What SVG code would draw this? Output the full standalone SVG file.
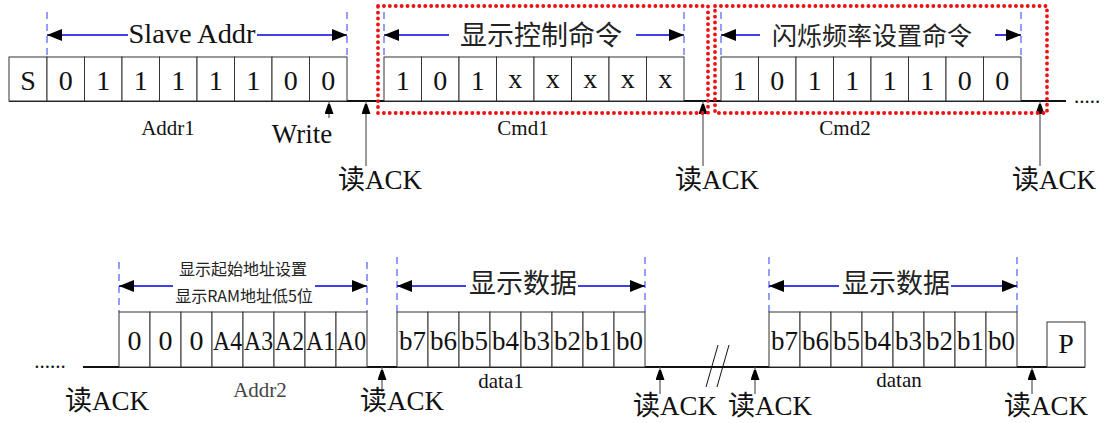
<svg xmlns="http://www.w3.org/2000/svg" width="1106" height="423" viewBox="0 0 1106 423">
<style>
.bg{fill:#fff}
.cell{fill:#fff;stroke:#333;stroke-width:1}
.bit{font-family:"Liberation Serif",serif;font-size:28px;fill:#111;text-anchor:middle}
.bit2{font-family:"Liberation Serif",serif;font-size:28px;fill:#111;text-anchor:middle}
.lbl{font-family:"Liberation Serif",serif;font-size:21px;fill:#111;text-anchor:middle}
.big{font-family:"Liberation Serif","Noto Sans CJK SC",serif;font-size:27px;fill:#111}
.cn{font-family:"Noto Sans CJK SC",sans-serif;fill:#222;text-anchor:middle}
.dash{stroke:#2a3cf0;stroke-width:1;stroke-dasharray:7 5;fill:none}
.dim{stroke:#0000e0;stroke-width:1.6;fill:none;marker-end:url(#ah)}
.ack{stroke:#555;stroke-width:1.2;fill:none;marker-end:url(#ak)}
.base{stroke:#111;stroke-width:2;fill:none}
.red{fill:none;stroke:#ee1111;stroke-width:3.8;stroke-dasharray:0.1 5.8;stroke-linecap:round}
</style>
<defs>
<marker id="ah" markerUnits="userSpaceOnUse" markerWidth="16" markerHeight="12" refX="15" refY="6" orient="auto"><path d="M0,0 L15,6 L0,12 z" fill="#000"/></marker>
<marker id="ak" markerUnits="userSpaceOnUse" markerWidth="10" markerHeight="14" refX="13" refY="4.5" orient="auto"><path d="M0,0 L13,4.5 L0,9 z" fill="#000"/></marker>
</defs>
<rect class="bg" x="0" y="0" width="1106" height="423"/>

<g id="connectors">
<line class="base" x1="9" y1="101" x2="1066" y2="101"/>
<line class="base" x1="83" y1="367" x2="1085" y2="367"/>
<line x1="718" y1="345" x2="706" y2="387" stroke="#111" stroke-width="1"/>
<line x1="729" y1="345" x2="717" y2="387" stroke="#111" stroke-width="1"/>
<line class="ack" x1="329" y1="118" x2="329" y2="101"/>
<line class="ack" x1="366" y1="166" x2="366" y2="101"/>
<line class="ack" x1="703" y1="166" x2="703" y2="101"/>
<line class="ack" x1="1040" y1="166" x2="1040" y2="101"/>
<line class="ack" x1="382" y1="392" x2="382" y2="367"/>
<line class="ack" x1="660" y1="394" x2="660" y2="367"/>
<line class="ack" x1="755" y1="394" x2="755" y2="367"/>
<line class="ack" x1="1032" y1="394" x2="1032" y2="367"/>
</g>

<g id="start">
<rect class="cell" x="9" y="57" width="38" height="44"/>
<text class="bit" x="28" y="90">S</text>
</g>

<g id="addr1">
<line class="dash" x1="47" y1="12" x2="47" y2="57"/>
<line class="dash" x1="347" y1="12" x2="347" y2="57"/>
<line class="dim" x1="128" y1="35" x2="47" y2="35"/>
<line class="dim" x1="257" y1="35" x2="347" y2="35"/>
<text class="big" x="192" y="43" text-anchor="middle" textLength="127" lengthAdjust="spacingAndGlyphs">Slave Addr</text>
<rect class="cell" x="47" y="57" width="37.5" height="44"/>
<rect class="cell" x="84.5" y="57" width="37.5" height="44"/>
<rect class="cell" x="122" y="57" width="37.5" height="44"/>
<rect class="cell" x="159.5" y="57" width="37.5" height="44"/>
<rect class="cell" x="197" y="57" width="37.5" height="44"/>
<rect class="cell" x="234.5" y="57" width="37.5" height="44"/>
<rect class="cell" x="272" y="57" width="37.5" height="44"/>
<rect class="cell" x="309.5" y="57" width="37.5" height="44"/>
<text class="bit" x="65.75" y="90">0</text>
<text class="bit" x="103.25" y="90">1</text>
<text class="bit" x="140.75" y="90">1</text>
<text class="bit" x="178.25" y="90">1</text>
<text class="bit" x="215.75" y="90">1</text>
<text class="bit" x="253.25" y="90">1</text>
<text class="bit" x="290.75" y="90">0</text>
<text class="bit" x="328.25" y="90">0</text>
<text class="lbl" x="168" y="135">Addr1</text>
<text class="big" x="302" y="143" text-anchor="middle" font-size="26">Write</text>
<text class="big" x="338" y="189">读ACK</text>
</g>

<g id="cmd1">
<rect class="red" x="378" y="6" width="330" height="107"/>
<line class="dash" x1="384" y1="12" x2="384" y2="57"/>
<line class="dash" x1="684" y1="12" x2="684" y2="57"/>
<line class="dim" x1="449" y1="35" x2="384" y2="35"/>
<line class="dim" x1="636" y1="35" x2="684" y2="35"/>
<text class="cn" x="541" y="45" font-size="27">显示控制命令</text>
<rect class="cell" x="384" y="57" width="37.5" height="44"/>
<rect class="cell" x="421.5" y="57" width="37.5" height="44"/>
<rect class="cell" x="459" y="57" width="37.5" height="44"/>
<rect class="cell" x="496.5" y="57" width="37.5" height="44"/>
<rect class="cell" x="534" y="57" width="37.5" height="44"/>
<rect class="cell" x="571.5" y="57" width="37.5" height="44"/>
<rect class="cell" x="609" y="57" width="37.5" height="44"/>
<rect class="cell" x="646.5" y="57" width="37.5" height="44"/>
<text class="bit" x="402.75" y="90">1</text>
<text class="bit" x="440.25" y="90">0</text>
<text class="bit" x="477.75" y="90">1</text>
<text class="bit" x="515.25" y="88">x</text>
<text class="bit" x="552.75" y="88">x</text>
<text class="bit" x="590.25" y="88">x</text>
<text class="bit" x="627.75" y="88">x</text>
<text class="bit" x="665.25" y="88">x</text>
<text class="lbl" x="523" y="135">Cmd1</text>
<text class="big" x="675" y="189">读ACK</text>
</g>

<g id="cmd2">
<rect class="red" x="715" y="6" width="332" height="107"/>
<line class="dash" x1="721" y1="12" x2="721" y2="57"/>
<line class="dash" x1="1021" y1="12" x2="1021" y2="57"/>
<line class="dim" x1="760" y1="35" x2="721" y2="35"/>
<line class="dim" x1="995" y1="35" x2="1021" y2="35"/>
<text class="cn" x="872" y="45" font-size="25">闪烁频率设置命令</text>
<rect class="cell" x="721" y="57" width="37.5" height="44"/>
<rect class="cell" x="758.5" y="57" width="37.5" height="44"/>
<rect class="cell" x="796" y="57" width="37.5" height="44"/>
<rect class="cell" x="833.5" y="57" width="37.5" height="44"/>
<rect class="cell" x="871" y="57" width="37.5" height="44"/>
<rect class="cell" x="908.5" y="57" width="37.5" height="44"/>
<rect class="cell" x="946" y="57" width="37.5" height="44"/>
<rect class="cell" x="983.5" y="57" width="37.5" height="44"/>
<text class="bit" x="739.75" y="90">1</text>
<text class="bit" x="777.25" y="90">0</text>
<text class="bit" x="814.75" y="90">1</text>
<text class="bit" x="852.25" y="90">1</text>
<text class="bit" x="889.75" y="90">1</text>
<text class="bit" x="927.25" y="90">1</text>
<text class="bit" x="964.75" y="90">0</text>
<text class="bit" x="1002.25" y="90">0</text>
<text class="lbl" x="845" y="135">Cmd2</text>
<text class="big" x="1012" y="189">读ACK</text>
<text class="lbl" x="1087" y="103" font-size="20">.....</text>
</g>

<g id="addr2">
<text class="lbl" x="50" y="368" font-size="20">......</text>
<line class="dash" x1="119" y1="262" x2="119" y2="312"/>
<line class="dash" x1="367" y1="262" x2="367" y2="312"/>
<line class="dim" x1="173" y1="286" x2="119" y2="286"/>
<line class="dim" x1="315" y1="286" x2="367" y2="286"/>
<text class="cn" x="243" y="275" font-size="16">显示起始地址设置</text>
<text class="cn" x="244" y="302" font-size="16">显示RAM地址低5位</text>
<rect class="cell" x="119" y="312" width="31" height="55"/>
<rect class="cell" x="150" y="312" width="31" height="55"/>
<rect class="cell" x="181" y="312" width="31" height="55"/>
<rect class="cell" x="212" y="312" width="31" height="55"/>
<rect class="cell" x="243" y="312" width="31" height="55"/>
<rect class="cell" x="274" y="312" width="31" height="55"/>
<rect class="cell" x="305" y="312" width="31" height="55"/>
<rect class="cell" x="336" y="312" width="31" height="55"/>
<text class="bit2" x="134.5" y="350">0</text>
<text class="bit2" x="165.5" y="350">0</text>
<text class="bit2" x="196.5" y="350">0</text>
<text class="bit2" x="227.5" y="350" textLength="29" lengthAdjust="spacingAndGlyphs">A4</text>
<text class="bit2" x="258.5" y="350" textLength="29" lengthAdjust="spacingAndGlyphs">A3</text>
<text class="bit2" x="289.5" y="350" textLength="29" lengthAdjust="spacingAndGlyphs">A2</text>
<text class="bit2" x="320.5" y="350" textLength="29" lengthAdjust="spacingAndGlyphs">A1</text>
<text class="bit2" x="351.5" y="350" textLength="29" lengthAdjust="spacingAndGlyphs">A0</text>
<text class="lbl" x="260" y="397" style="fill:#444">Addr2</text>
<text class="big" x="65" y="410">读ACK</text>
<text class="big" x="360" y="410">读ACK</text>
</g>

<g id="data1">
<line class="dash" x1="397" y1="257" x2="397" y2="312"/>
<line class="dash" x1="645" y1="257" x2="645" y2="312"/>
<line class="dim" x1="466" y1="286" x2="397" y2="286"/>
<line class="dim" x1="578" y1="286" x2="645" y2="286"/>
<text class="cn" x="523" y="293" font-size="27">显示数据</text>
<rect class="cell" x="397" y="312" width="31" height="55"/>
<rect class="cell" x="428" y="312" width="31" height="55"/>
<rect class="cell" x="459" y="312" width="31" height="55"/>
<rect class="cell" x="490" y="312" width="31" height="55"/>
<rect class="cell" x="521" y="312" width="31" height="55"/>
<rect class="cell" x="552" y="312" width="31" height="55"/>
<rect class="cell" x="583" y="312" width="31" height="55"/>
<rect class="cell" x="614" y="312" width="31" height="55"/>
<text class="bit2" x="412.5" y="350" textLength="27" lengthAdjust="spacingAndGlyphs">b7</text>
<text class="bit2" x="443.5" y="350" textLength="27" lengthAdjust="spacingAndGlyphs">b6</text>
<text class="bit2" x="474.5" y="350" textLength="27" lengthAdjust="spacingAndGlyphs">b5</text>
<text class="bit2" x="505.5" y="350" textLength="27" lengthAdjust="spacingAndGlyphs">b4</text>
<text class="bit2" x="536.5" y="350" textLength="27" lengthAdjust="spacingAndGlyphs">b3</text>
<text class="bit2" x="567.5" y="350" textLength="27" lengthAdjust="spacingAndGlyphs">b2</text>
<text class="bit2" x="598.5" y="350" textLength="27" lengthAdjust="spacingAndGlyphs">b1</text>
<text class="bit2" x="629.5" y="350" textLength="27" lengthAdjust="spacingAndGlyphs">b0</text>
<text class="lbl" x="501" y="388">data1</text>
<text class="big" x="633" y="415">读ACK</text>
<text class="big" x="728" y="415">读ACK</text>
</g>

<g id="datan">
<line class="dash" x1="769" y1="257" x2="769" y2="312"/>
<line class="dash" x1="1017" y1="257" x2="1017" y2="312"/>
<line class="dim" x1="839" y1="286" x2="769" y2="286"/>
<line class="dim" x1="951" y1="286" x2="1017" y2="286"/>
<text class="cn" x="896" y="293" font-size="27">显示数据</text>
<rect class="cell" x="769" y="312" width="31" height="55"/>
<rect class="cell" x="800" y="312" width="31" height="55"/>
<rect class="cell" x="831" y="312" width="31" height="55"/>
<rect class="cell" x="862" y="312" width="31" height="55"/>
<rect class="cell" x="893" y="312" width="31" height="55"/>
<rect class="cell" x="924" y="312" width="31" height="55"/>
<rect class="cell" x="955" y="312" width="31" height="55"/>
<rect class="cell" x="986" y="312" width="31" height="55"/>
<text class="bit2" x="784.5" y="350" textLength="27" lengthAdjust="spacingAndGlyphs">b7</text>
<text class="bit2" x="815.5" y="350" textLength="27" lengthAdjust="spacingAndGlyphs">b6</text>
<text class="bit2" x="846.5" y="350" textLength="27" lengthAdjust="spacingAndGlyphs">b5</text>
<text class="bit2" x="877.5" y="350" textLength="27" lengthAdjust="spacingAndGlyphs">b4</text>
<text class="bit2" x="908.5" y="350" textLength="27" lengthAdjust="spacingAndGlyphs">b3</text>
<text class="bit2" x="939.5" y="350" textLength="27" lengthAdjust="spacingAndGlyphs">b2</text>
<text class="bit2" x="970.5" y="350" textLength="27" lengthAdjust="spacingAndGlyphs">b1</text>
<text class="bit2" x="1001.5" y="350" textLength="27" lengthAdjust="spacingAndGlyphs">b0</text>
<text class="lbl" x="899" y="387">datan</text>
<text class="big" x="1004" y="415">读ACK</text>
</g>

<g id="stop">
<rect class="cell" x="1047" y="322" width="38" height="45"/>
<text class="bit2" x="1066" y="353">P</text>
</g>
</svg>
